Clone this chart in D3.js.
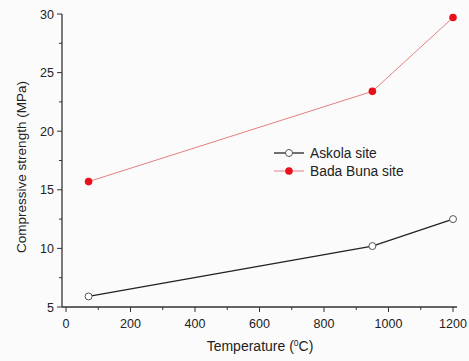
<!DOCTYPE html>
<html>
<head>
  <meta charset="utf-8">
  <script src="https://d3js.org/d3.v7.min.js"></script>
  <style>
    body { margin:0; background:#fbfbfb; }
    text { font-family: "Liberation Sans", Arial, sans-serif; fill:#222; }
  </style>
</head>
<body>
  <script>
    // données
    var temps = [70, 950, 1200];
    var askola = [5.9, 10.2, 12.5];
    var badaBuna = [15.7, 23.4, 29.7];
    var xTicks = [0, 200, 400, 600, 800, 1000, 1200];
    var yTicks = [5, 10, 15, 20, 25, 30];

    var svg = d3.select("body").append("svg")
      .attr("width", 469)
      .attr("height", 361);

    var x = d3.scaleLinear().domain([0, 1200]).range([66, 453]);
    var y = d3.scaleLinear().domain([5, 30]).range([307, 14]);

    // axes
    svg.append("line").attr("x1", 62).attr("x2", 457).attr("y1", 307).attr("y2", 307)
      .attr("stroke", "#333").attr("stroke-width", 1.3);
    svg.append("line").attr("x1", 62).attr("x2", 62).attr("y1", 14).attr("y2", 307)
      .attr("stroke", "#333").attr("stroke-width", 1.3);

    // graduations
    d3.range(0, 1201, 100).forEach(function(v) {
      svg.append("line").attr("x1", x(v)).attr("x2", x(v))
        .attr("y1", 307).attr("y2", v % 200 === 0 ? 312 : 310)
        .attr("stroke", "#333").attr("stroke-width", 1);
    });
    d3.range(5, 30.1, 2.5).forEach(function(v) {
      svg.append("line").attr("x1", v % 5 === 0 ? 57 : 59).attr("x2", 62)
        .attr("y1", y(v)).attr("y2", y(v))
        .attr("stroke", "#333").attr("stroke-width", 1);
    });

    svg.selectAll(".xl").data(xTicks).enter().append("text")
      .attr("x", function(d) { return x(d); })
      .attr("y", 328)
      .attr("text-anchor", "middle")
      .attr("font-size", "12.5px")
      .text(function(d) { return d; });

    svg.selectAll(".yl").data(yTicks).enter().append("text")
      .attr("x", 54)
      .attr("y", function(d) { return y(d) + 4.5; })
      .attr("text-anchor", "end")
      .attr("font-size", "12.5px")
      .text(function(d) { return d; });

    // titres des axes
    var xt = svg.append("text")
      .attr("x", 260).attr("y", 351)
      .attr("text-anchor", "middle")
      .attr("font-size", "14px");
    xt.append("tspan").text("Temperature (");
    xt.append("tspan").attr("font-size", "8.5px").attr("dy", -5).text("0");
    xt.append("tspan").attr("dy", 5).text("C)");

    svg.append("text")
      .attr("transform", "translate(26,167) rotate(-90)")
      .attr("text-anchor", "middle")
      .attr("font-size", "13.5px")
      .text("Compressive strength (MPa)");

    var line = d3.line()
      .x(function(d) { return x(d[0]); })
      .y(function(d) { return y(d[1]); });

    var dataA = temps.map(function(t, i) { return [t, askola[i]]; });
    var dataB = temps.map(function(t, i) { return [t, badaBuna[i]]; });

    svg.append("path").datum(dataB).attr("d", line)
      .attr("fill", "none").attr("stroke", "#e48080").attr("stroke-width", 1);
    svg.append("path").datum(dataA).attr("d", line)
      .attr("fill", "none").attr("stroke", "#222").attr("stroke-width", 1.3);

    svg.selectAll(".pb").data(dataB).enter().append("circle")
      .attr("cx", function(d) { return x(d[0]); })
      .attr("cy", function(d) { return y(d[1]); })
      .attr("r", 3.8)
      .attr("fill", "#e8101a");
    svg.selectAll(".pa").data(dataA).enter().append("circle")
      .attr("cx", function(d) { return x(d[0]); })
      .attr("cy", function(d) { return y(d[1]); })
      .attr("r", 3.5)
      .attr("fill", "#fff").attr("stroke", "#555").attr("stroke-width", 1);

    // légende
    svg.append("line").attr("x1", 274).attr("x2", 304).attr("y1", 153).attr("y2", 153)
      .attr("stroke", "#222").attr("stroke-width", 1.3);
    svg.append("circle").attr("cx", 289).attr("cy", 153).attr("r", 3.5)
      .attr("fill", "#fff").attr("stroke", "#555");
    svg.append("text").attr("x", 310).attr("y", 157.5).attr("font-size", "13.8px").text("Askola site");

    svg.append("line").attr("x1", 274).attr("x2", 304).attr("y1", 171).attr("y2", 171)
      .attr("stroke", "#e48080").attr("stroke-width", 1);
    svg.append("circle").attr("cx", 289).attr("cy", 171).attr("r", 3.8)
      .attr("fill", "#e8101a");
    svg.append("text").attr("x", 310).attr("y", 175.5).attr("font-size", "13.8px").text("Bada Buna site");
  </script>
</body>
</html>
